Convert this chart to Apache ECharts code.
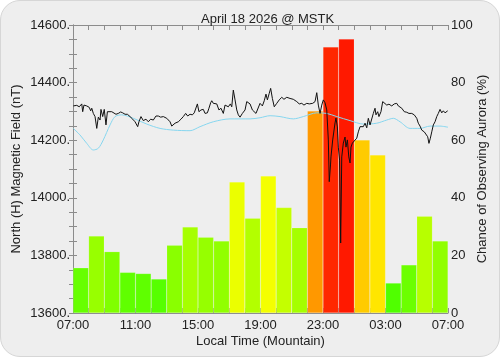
<!DOCTYPE html>
<html>
<head>
<meta charset="utf-8">
<script src="https://cdn.jsdelivr.net/npm/echarts@6.0.0/dist/echarts.min.js"></script>
<style>
body{
	margin:0;
	background:#ffffff;
}
#frame{
	position:absolute;
	left:0;top:0;
	width:498px;height:355px;
	background:#eeeeee;
	border:1px solid #d6d6d6;
	border-radius:20px;
	overflow:hidden;
}
#chart{
	width:500px;
	height:357px;
	margin:-1px 0 0 -1px;
}
</style>
</head>
<body>
<div id="frame"><div id="chart"></div></div>
<script type="text/javascript">
// hourly aurora chance, one bar per hour from 07:00
var hourCats = ['07','08','09','10','11','12','13','14','15','16','17','18',
                '19','20','21','22','23','00','01','02','03','04','05','06'];
var auroraPct = [15.7, 26.7, 21.3, 14.1, 13.7, 11.8, 23.5, 29.9, 26.3, 25.0, 45.5, 32.9,
                 47.6, 36.6, 29.6, 70.1, 92.4, 95.1, 60.1, 54.9, 10.4, 16.7, 33.6, 25.0];

// x tick labels (every 4 hours)
var timeLabels = ['07:00','11:00','15:00','19:00','23:00','03:00','07:00'];

// magnetic field, hours after 07:00 and nT
var fieldHours = [0.02,0.24,0.40,0.56,0.62,0.70,0.88,1.04,1.13,1.20,1.30,1.41,1.52,1.62,1.73,1.79,1.90,2.00,2.11,2.20,
  2.32,2.48,2.58,2.75,2.90,3.05,3.18,3.33,3.48,3.65,3.82,3.97,4.14,4.22,4.35,4.50,4.67,4.82,4.97,5.14,
  5.31,5.46,5.61,5.78,6.00,6.21,6.32,6.53,6.74,6.91,7.06,7.21,7.34,7.49,7.64,7.76,7.85,7.96,8.06,8.19,
  8.34,8.45,8.60,8.70,8.81,8.88,8.98,9.09,9.20,9.34,9.47,9.62,9.73,9.84,9.94,10.07,10.16,10.26,10.37,10.48,
  10.58,10.69,10.84,11.01,11.12,11.22,11.33,11.48,11.60,11.71,11.82,11.97,12.12,12.24,12.35,12.44,12.56,12.65,12.76,12.88,
  13.04,13.20,13.36,13.50,13.68,13.89,14.10,14.32,14.48,14.64,14.78,14.96,15.12,15.34,15.49,15.60,15.70,15.81,15.92,16.02,
  16.13,16.24,16.34,16.40,16.48,16.51,16.62,16.77,16.83,16.92,16.98,17.06,17.13,17.20,17.30,17.41,17.47,17.56,17.65,17.73,
  17.79,17.88,17.98,18.16,18.26,18.37,18.48,18.58,18.69,18.80,18.90,19.01,19.12,19.22,19.33,19.39,19.50,19.58,19.71,19.82,
  19.92,20.08,20.22,20.40,20.56,20.72,20.82,21.04,21.20,21.36,21.50,21.68,21.84,22.00,22.10,22.21,22.32,22.48,22.59,22.70,
  22.78,22.87,22.96,23.06,23.17,23.28,23.38,23.49,23.60,23.70,23.81,23.98];
var fieldNT = [14319,14321,14316,14326,14299,14322,14319,14314,14302,14311,14293,14282,14241,14280,14270,14307,14282,14307,14253,14299,
  14293,14299,14293,14290,14293,14298,14295,14290,14290,14282,14273,14264,14247,14264,14282,14268,14273,14264,14273,14270,
  14284,14284,14280,14282,14276,14264,14249,14259,14264,14273,14282,14293,14284,14290,14288,14295,14291,14326,14299,14305,
  14307,14293,14295,14311,14330,14337,14328,14330,14326,14305,14311,14293,14322,14326,14316,14326,14316,14374,14340,14305,
  14288,14280,14293,14305,14334,14337,14326,14305,14307,14293,14299,14328,14319,14337,14360,14340,14363,14380,14345,14316,
  14328,14340,14349,14342,14349,14345,14342,14334,14326,14328,14322,14328,14326,14328,14334,14365,14322,14293,14322,14340,
  14330,14305,14201,14056,14114,14142,14201,14260,14277,14246,14176,14131,13843,14142,14190,14211,14176,14201,14142,14121,
  14176,14190,14194,14207,14229,14247,14253,14247,14259,14243,14276,14253,14247,14293,14311,14288,14299,14282,14299,14334,
  14328,14322,14325,14319,14326,14328,14319,14311,14299,14297,14293,14293,14288,14276,14259,14249,14235,14229,14224,14212,
  14189,14207,14229,14253,14264,14282,14293,14307,14295,14302,14295,14302];

// smooth baseline (light blue)
var baseHours = [0.02,0.45,0.88,1.30,1.62,1.94,2.37,2.69,3.12,3.86,4.72,5.57,6.42,7.49,8.13,8.98,10.05,11.33,11.97,12.61,
  13.25,14.10,14.74,15.60,16.24,16.88,17.73,18.58,19.44,20.08,20.50,20.93,21.57,22.21,22.85,23.49,24.0];
var baseNT = [14241,14218,14189,14166,14172,14201,14253,14282,14288,14276,14256,14241,14235,14233,14247,14264,14274,14274,14278,14285,
  14282,14274,14282,14295,14293,14282,14268,14256,14259,14270,14276,14264,14241,14241,14249,14249,14245];

function pairs(xs, ys) {
	var out = [];
	for (var i = 0; i < xs.length; i++) out.push([xs[i], ys[i]]);
	return out;
}

var txt = '#222222';
var axisGray = '#8c8c8c';
var fontFam = 'Liberation Sans, Arial, sans-serif';

// every tick is drawn inside the box, labels only on the major ones
function boxAxis(extra) {
	var a = {
		type: 'value',
		nameMoveOverlap: false,
		nameTextStyle: {color: txt, fontSize: 13},
		axisLine: {show: true, lineStyle: {color: axisGray, width: 1}},
		axisTick: {show: true, inside: true, length: 4, lineStyle: {color: axisGray}},
		splitLine: {show: false},
		axisLabel: {color: txt, fontSize: 13, margin: 3, showMinLabel: true, showMaxLabel: true}
	};
	for (var k in extra) {
		if (typeof extra[k] === 'object' && a[k] && !Array.isArray(extra[k])) {
			for (var j in extra[k]) a[k][j] = extra[k][j];
		} else {
			a[k] = extra[k];
		}
	}
	return a;
}

var chart = echarts.init(document.getElementById('chart'));
chart.setOption({
	animation: false,
	backgroundColor: 'transparent',
	textStyle: {fontFamily: fontFam},
	title: {
		text: 'April 18 2026 @ MSTK',
		left: 196,
		top: 8,
		textStyle: {color: txt, fontSize: 13, fontWeight: 'normal', fontFamily: fontFam}
	},
	grid: {left: 73, right: 52, top: 25, bottom: 44},
	visualMap: {
		show: false,
		type: 'continuous',
		seriesIndex: 0,
		min: 0,
		max: 100,
		inRange: {color: ['#22ff00', '#ffff00', '#ff0000']}
	},
	xAxis: [
		{
			type: 'category',
			data: hourCats,
			show: false
		},
		boxAxis({
			position: 'bottom',
			min: 0,
			max: 24,
			interval: 1,
			name: 'Local Time (Mountain)',
			nameLocation: 'middle',
			nameGap: 22,
			axisTick: {length: 5},
			axisLabel: {
				margin: 6,
				interval: 0,
				formatter: function (v) { return v % 4 === 0 ? timeLabels[v / 4] : ''; }
			}
		}),
		boxAxis({
			position: 'top',
			min: 0,
			max: 24,
			interval: 1,
			axisTick: {length: 5},
			axisLabel: {show: false}
		})
	],
	yAxis: [
		boxAxis({
			position: 'left',
			min: 13600,
			max: 14600,
			interval: 50,
			name: 'North (H) Magnetic Field (nT)',
			nameLocation: 'middle',
			nameRotate: 90,
			nameGap: 50,
			axisLabel: {
				formatter: function (v) { return v % 200 === 0 ? v + '.' : ''; }
			}
		}),
		boxAxis({
			position: 'right',
			min: 0,
			max: 100,
			interval: 5,
			name: 'Chance of Observing Aurora (%)',
			nameLocation: 'middle',
			nameRotate: 90,
			nameGap: 28,
			axisLabel: {
				formatter: function (v) { return v % 20 === 0 ? String(v) : ''; }
			}
		})
	],
	series: [
		{
			name: 'aurora',
			type: 'bar',
			xAxisIndex: 0,
			yAxisIndex: 1,
			barCategoryGap: '0%',
			data: auroraPct,
			itemStyle: {borderColor: 'rgba(255,255,255,0.25)', borderWidth: 0.5}
		},
		{
			name: 'baseline',
			type: 'line',
			xAxisIndex: 1,
			yAxisIndex: 0,
			symbol: 'none',
			smooth: 0.3,
			z: 3,
			data: pairs(baseHours, baseNT),
			lineStyle: {color: '#86d6ef', width: 1}
		},
		{
			name: 'field',
			type: 'line',
			xAxisIndex: 1,
			yAxisIndex: 0,
			symbol: 'none',
			z: 4,
			data: pairs(fieldHours, fieldNT),
			lineStyle: {color: '#111111', width: 1}
		}
	]
});
</script>
</body>
</html>
